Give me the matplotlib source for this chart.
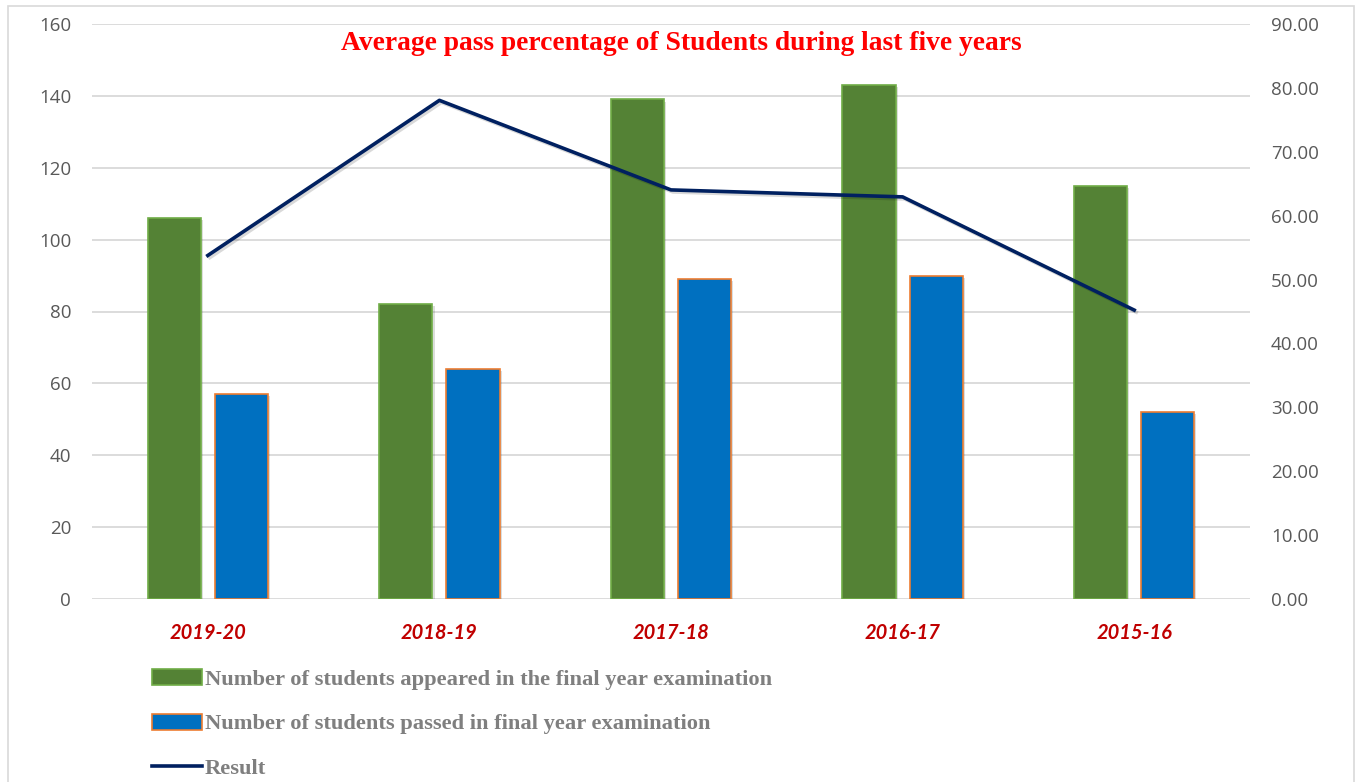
import numpy as np
import matplotlib.pyplot as plt
from matplotlib.patches import Patch, Rectangle
from matplotlib.lines import Line2D
import matplotlib.patheffects as pe

years = ["2019-20", "2018-19", "2017-18", "2016-17", "2015-16"]
appeared = [106, 82, 139, 143, 115]
passed = [57, 64, 89, 90, 52]
result = [53.77, 78.05, 64.03, 62.94, 45.22]

appeared_label = "Number of students appeared in the final year examination"
passed_label = "Number of students passed in final year examination"
result_label = "Result"
title = "Average pass percentage of Students during last five years"

W, H = 1357, 782
fig = plt.figure(figsize=(W / 100, H / 100), dpi=100)

# chart area border
fig.patches.append(Rectangle((8 / W, -0.05), 1346 / W, 1 - 6 / H + 0.05,
                             transform=fig.transFigure, fill=False,
                             edgecolor="#D9D9D9", linewidth=1.2))

ax = fig.add_axes([92 / W, 1 - 599 / H, 1158 / W, 575 / H])
x = np.arange(len(years))

shadow = [pe.SimplePatchShadow(offset=(1.5, -1.5), alpha=0.15), pe.Normal()]
b1 = ax.bar(x - 0.145, appeared, width=0.23, color="#548235",
            edgecolor="#70AD47", linewidth=1.2, zorder=3)
b2 = ax.bar(x + 0.145, passed, width=0.23, color="#0070C0",
            edgecolor="#ED7D31", linewidth=1.2, zorder=3)
for p in list(b1) + list(b2):
    p.set_path_effects(shadow)

ax.set_xlim(-0.5, len(years) - 0.5)
ax.set_ylim(0, 160)
ax.set_yticks(np.arange(0, 161, 20))
ax.yaxis.grid(True, color="#D9D9D9", linewidth=1.3, zorder=0)
ax.set_axisbelow(True)
for s in ax.spines.values():
    s.set_visible(False)
ax.tick_params(axis="both", length=0)
ax.tick_params(axis="y", labelsize=13.5, labelcolor="#595959", pad=15)
ax.set_xticks(x)
ax.set_xticklabels(years, fontsize=14.5, color="#C00000",
                   fontweight="bold", fontstyle="italic", family="Lato")
ax.tick_params(axis="x", pad=17)
for lab in ax.get_yticklabels():
    lab.set_family("Open Sans")

ax2 = ax.twinx()
ax2.plot(x, result, color="#002060", linewidth=2.6, zorder=4,
         path_effects=[pe.SimpleLineShadow(offset=(1.5, -1.5), alpha=0.15), pe.Normal()])
ax2.set_ylim(0, 90)
ax2.set_yticks(np.arange(0, 91, 10))
ax2.set_yticklabels([f"{v:.2f}" for v in np.arange(0, 91, 10)],
                    family="Open Sans")
for s in ax2.spines.values():
    s.set_visible(False)
ax2.tick_params(axis="y", length=0, labelsize=13.5, labelcolor="#595959", pad=15)

fig.text(681 / W, 1 - 43 / H, title, ha="center", va="center",
         color="#FF0000", fontsize=19.8, fontweight="bold", family="Liberation Serif")

handles = [
    Patch(facecolor="#548235", edgecolor="#70AD47", linewidth=1.2, label=appeared_label),
    Patch(facecolor="#0070C0", edgecolor="#ED7D31", linewidth=1.2, label=passed_label),
    Line2D([], [], color="#002060", linewidth=2.6, label=result_label),
]
leg = fig.legend(handles=handles, loc="upper left",
                 bbox_to_anchor=(152 / W, 1 - 669 / H), frameon=False,
                 prop={"family": "Liberation Serif", "weight": "bold", "size": 16.2},
                 handlelength=2.2, handleheight=0.72, handletextpad=0.15,
                 labelspacing=1.05, borderpad=0, borderaxespad=0)
for t in leg.get_texts():
    t.set_color("#7F7F7F")

fig.savefig("out.png", dpi=100)
